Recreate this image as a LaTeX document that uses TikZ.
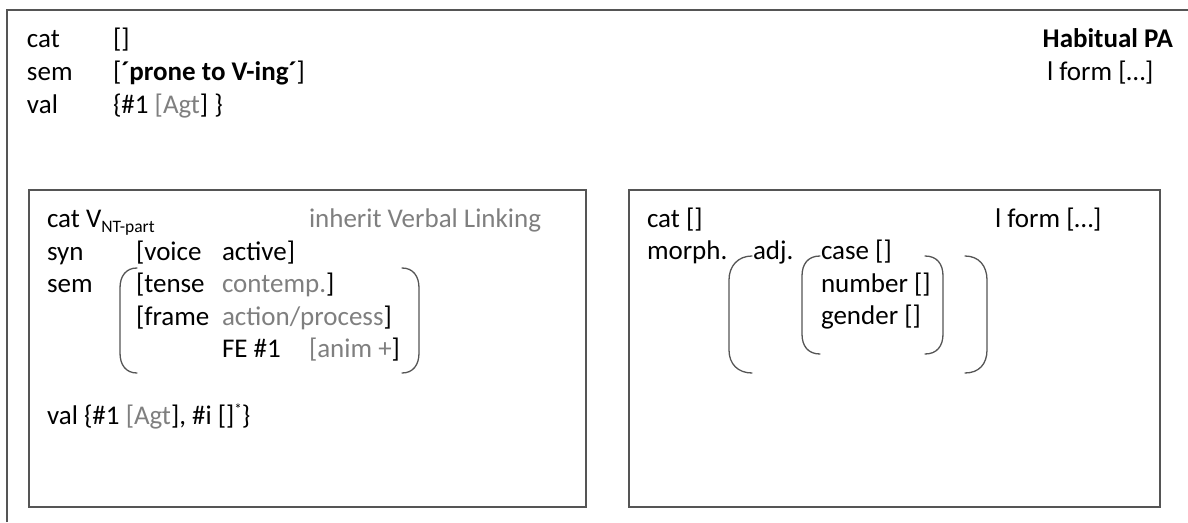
\documentclass[tikz,border=0pt]{standalone}
\usepackage{fontspec}
\setmainfont{Carlito}
\definecolor{framegray}{HTML}{555555}
\definecolor{softgray}{HTML}{7F7F7F}
\begin{document}
\begin{tikzpicture}[x=1pt,y=-1pt,
  txt/.style={anchor=base west,inner sep=0pt,outer sep=0pt,font=\fontsize{27}{33}\selectfont},
  frame/.style={draw=framegray,line width=1.5pt},
  paren/.style={draw=framegray,line width=1.3pt,line cap=round},
]
\useasboundingbox (0,0) rectangle (1188,522);

% outer frame (runs past the page at right and bottom)
\draw[frame] (7,522) -- (7,10) -- (1188,10);

% header block
\node[txt] (tcat)  at (27,47)  {cat};
\node[txt] (tcatv) at (113,47) {[]};
\node[txt] (tsem)  at (27,80)  {sem};
\node[txt] (tsemv) at (113,80) {[\textbf{´prone to V-ing´}]};
\node[txt] (tval)  at (27,113) {val};
\node[txt] (tvalv) at (113,113) {\{\#1 \textcolor{softgray}{[Agt}] \}};
\node[txt,anchor=base east] (tname) at (1173,47) {\textbf{Habitual PA}};
\node[txt] (tform) at (1047,80) {l form […]};

% left sub-box
\draw[frame] (29,190) rectangle (586,507);
\node[txt] (lcat) at (47,227) {cat V\raisebox{-5pt}{\fontsize{17.5}{17.5}\selectfont NT-part}};
\node[txt] (linh) at (309,227) {\textcolor{softgray}{inherit Verbal Linking}};
\node[txt] (lsyn) at (47,260) {syn};
\node[txt] (lvoice) at (136,260) {[voice};
\node[txt] (lactive) at (222,260) {active]};
\node[txt] (lsem) at (47,292) {sem};
\node[txt] (ltense) at (136,292) {[tense};
\node[txt] (lcontemp) at (222,292) {\textcolor{softgray}{contemp.}]};
\node[txt] (lframe) at (136,325) {[frame};
\node[txt] (laction) at (222,325) {\textcolor{softgray}{action/process}]};
\node[txt] (lfe) at (222,357) {FE \#1};
\node[txt] (lanim) at (309,357) {\textcolor{softgray}{[anim +}]};
\node[txt] (lval) at (47,424) {val \{\#1 \textcolor{softgray}{[Agt}], \#i []\raisebox{10pt}{\fontsize{15}{15}\selectfont *}\}};

% sem parentheses
\draw[paren] (137,268) .. controls (126,268) and (120,276) .. (120,288) -- (120,353)
  .. controls (120,365) and (126,373) .. (137,373);
\draw[paren] (402,268) .. controls (413,268) and (419,276) .. (419,288) -- (419,353)
  .. controls (419,365) and (413,373) .. (402,373);

% right sub-box
\draw[frame] (629,190) rectangle (1160,507);
\node[txt] (rcat) at (647,227) {cat []};
\node[txt] (rform) at (995,227) {l form […]};
\node[txt] (rmorph) at (647,259) {morph.};
\node[txt] (radj) at (753,259) {adj.};
\node[txt] (rcase) at (821,259) {case []};
\node[txt] (rnum) at (821,292) {number []};
\node[txt] (rgen) at (821,324) {gender []};

% morph parentheses (outer)
\draw[paren] (752,256) .. controls (738,256) and (729,266) .. (729,280) -- (729,350)
  .. controls (729,364) and (738,373) .. (752,373);
\draw[paren] (965,256) .. controls (979,256) and (987,266) .. (987,280) -- (987,350)
  .. controls (987,364) and (979,373) .. (965,373);
% adj parentheses (inner)
\draw[paren] (820,256) .. controls (808,256) and (802,264) .. (802,276) -- (802,334)
  .. controls (802,346) and (808,354) .. (820,354);
\draw[paren] (925,256) .. controls (937,256) and (943,264) .. (943,276) -- (943,334)
  .. controls (943,346) and (937,354) .. (925,354);
\end{tikzpicture}
\end{document}
